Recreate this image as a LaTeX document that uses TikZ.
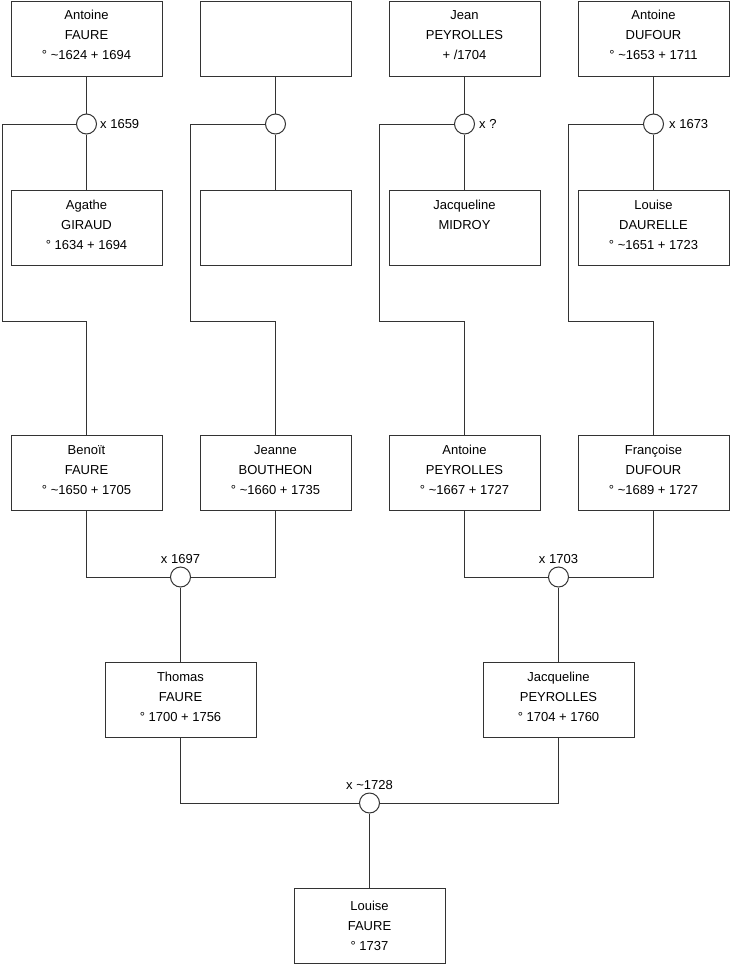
\documentclass[tikz,border=0pt]{standalone}
\usepackage{fontspec}
\setmainfont{Liberation Sans}
\definecolor{lc}{HTML}{333333}
\begin{document}
\begin{tikzpicture}[x=1pt,y=-1pt,
  line/.style={draw=lc, line width=1pt},
  person/.style={draw=lc, line width=1pt, fill=white, minimum width=151pt, minimum height=75pt, inner sep=0pt},
  ptext/.style={align=center, font=\fontsize{13pt}{20pt}\selectfont, inner sep=0pt},
  wed/.style={circle, draw=lc, line width=1pt, fill=white, minimum size=20pt, inner sep=0pt},
  wlab/.style={font=\fontsize{13pt}{16pt}\selectfont, inner sep=0pt}]
\useasboundingbox (0,0) rectangle (740,975);
\fill[white] (0,0) rectangle (740,975);

% boxes
\node[person] (a1) at (86.5,38.5) {};
\node[person] (a2) at (275.5,38.5) {};
\node[person] (a3) at (464.5,38.5) {};
\node[person] (a4) at (653.5,38.5) {};
\node[person] (b1) at (86.5,227.5) {};
\node[person] (b2) at (275.5,227.5) {};
\node[person] (b3) at (464.5,227.5) {};
\node[person] (b4) at (653.5,227.5) {};
\node[person] (c1) at (86.5,472.5) {};
\node[person] (c2) at (275.5,472.5) {};
\node[person] (c3) at (464.5,472.5) {};
\node[person] (c4) at (653.5,472.5) {};
\node[person] (d1) at (180.5,699.5) {};
\node[person] (d2) at (558.5,699.5) {};
\node[person] (e1) at (369.5,925.5) {};

% texts
\node[ptext] (a1t) at (86.5,35) {Antoine\\FAURE\\° \textasciitilde1624 + 1694};
\node[ptext] (a3t) at (464.5,35) {Jean\\PEYROLLES\\+ /1704};
\node[ptext] (a4t) at (653.5,35) {Antoine\\DUFOUR\\° \textasciitilde1653 + 1711};
\node[ptext] (b1t) at (86.5,225) {Agathe\\GIRAUD\\° 1634 + 1694};
\node[ptext] (b3t) at (464.5,215) {Jacqueline\\MIDROY};
\node[ptext] (b4t) at (653.5,225) {Louise\\DAURELLE\\° \textasciitilde1651 + 1723};
\node[ptext] (c1t) at (86.5,470) {Benoït\\FAURE\\° \textasciitilde1650 + 1705};
\node[ptext] (c2t) at (275.5,470) {Jeanne\\BOUTHEON\\° \textasciitilde1660 + 1735};
\node[ptext] (c3t) at (464.5,470) {Antoine\\PEYROLLES\\° \textasciitilde1667 + 1727};
\node[ptext] (c4t) at (653.5,470) {Françoise\\DUFOUR\\° \textasciitilde1689 + 1727};
\node[ptext] (d1t) at (180.5,697) {Thomas\\FAURE\\° 1700 + 1756};
\node[ptext] (d2t) at (558.5,697) {Jacqueline\\PEYROLLES\\° 1704 + 1760};
\node[ptext] (e1t) at (369.5,926) {Louise\\FAURE\\° 1737};

% marriage circles
\node[wed] (w1) at (86.5,124) {};
\node[wed] (w2) at (275.5,124) {};
\node[wed] (w3) at (464.5,124) {};
\node[wed] (w4) at (653.5,124) {};
\node[wed] (w5) at (180.5,577) {};
\node[wed] (w6) at (558.5,577) {};
\node[wed] (w7) at (369.5,803) {};

% marriage labels
\node[wlab, anchor=west] (l1) at (100,124) {x 1659};
\node[wlab, anchor=west] (l3) at (479,124) {x ?};
\node[wlab, anchor=west] (l4) at (669,124) {x 1673};
\node[wlab, anchor=base] (l5) at (180.5,563) {x 1697};
\node[wlab, anchor=base] (l6) at (558.5,563) {x 1703};
\node[wlab, anchor=base] (l7) at (369.5,789.5) {x \textasciitilde1728};

% couple connectors
\draw[line] (a1) -- (w1) -- (b1);
\draw[line] (a2) -- (w2) -- (b2);
\draw[line] (a3) -- (w3) -- (b3);
\draw[line] (a4) -- (w4) -- (b4);

% child branches
\coordinate (k1a) at (2,124);   \coordinate (k1b) at (2,321);   \coordinate (k1c) at (86.5,321);
\coordinate (k2a) at (190,124); \coordinate (k2b) at (190,321); \coordinate (k2c) at (275.5,321);
\coordinate (k3a) at (379,124); \coordinate (k3b) at (379,321); \coordinate (k3c) at (464.5,321);
\coordinate (k4a) at (568,124); \coordinate (k4b) at (568,321); \coordinate (k4c) at (653.5,321);
\draw[line] (w1.west) -- (k1a) -- (k1b) -- (k1c) -- (c1.north);
\draw[line] (w2.west) -- (k2a) -- (k2b) -- (k2c) -- (c2.north);
\draw[line] (w3.west) -- (k3a) -- (k3b) -- (k3c) -- (c3.north);
\draw[line] (w4.west) -- (k4a) -- (k4b) -- (k4c) -- (c4.north);

\draw[line] (c1.south) |- (w5.west);
\draw[line] (c2.south) |- (w5.east);
\draw[line] (w5) -- (d1);
\draw[line] (c3.south) |- (w6.west);
\draw[line] (c4.south) |- (w6.east);
\draw[line] (w6) -- (d2);
\draw[line] (d1.south) |- (w7.west);
\draw[line] (d2.south) |- (w7.east);
\draw[line] (w7) -- (e1);
\end{tikzpicture}
\end{document}
